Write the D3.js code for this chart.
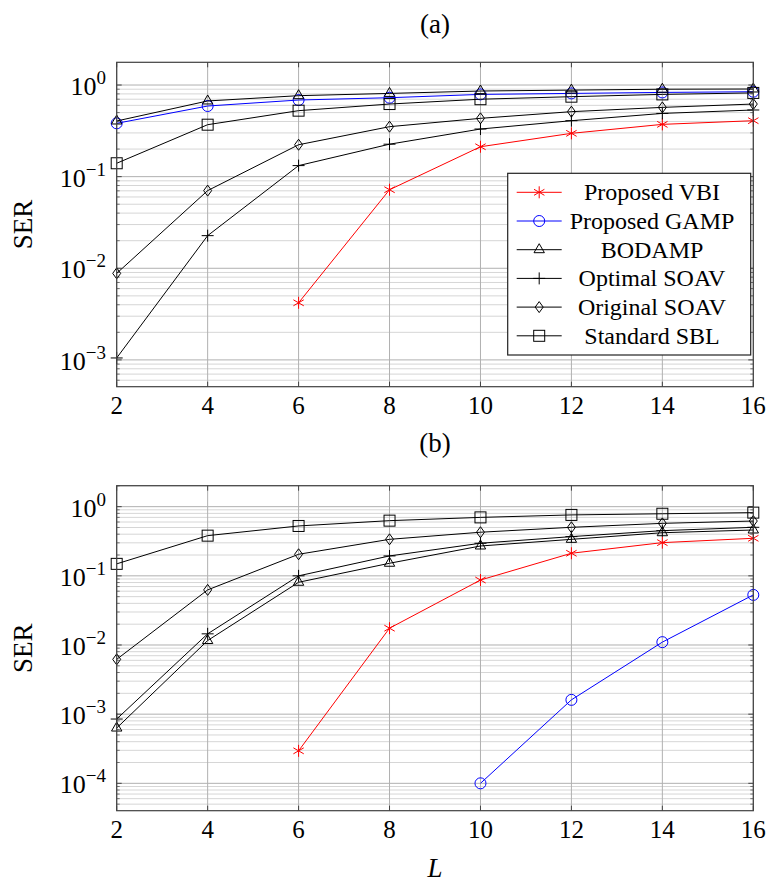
<!DOCTYPE html>
<html>
<head>
<meta charset="utf-8">
<script src="https://cdn.jsdelivr.net/npm/d3@7"></script>
<style>
  body { margin: 0; background: #fff; }
  text { font-family: "Liberation Serif", "DejaVu Serif", serif; fill: #000; }
</style>
</head>
<body>
<script>
var L = [2, 4, 6, 8, 10, 12, 14, 16];

// (a)
var vbiA      = [null, null, 0.0042, 0.072, 0.212, 0.297, 0.372, 0.408];
var gampA     = [0.382, 0.59, 0.686, 0.727, 0.79, 0.81, 0.83, 0.845];
var bodampA   = [0.405, 0.67, 0.765, 0.81, 0.86, 0.88, 0.9, 0.905];
var optSoavA  = [0.00105, 0.0227, 0.132, 0.226, 0.331, 0.408, 0.49, 0.534];
var origSoavA = [0.0088, 0.0704, 0.223, 0.351, 0.433, 0.512, 0.57, 0.62];
var sblA      = [0.14, 0.369, 0.525, 0.62, 0.70, 0.746, 0.79, 0.82];

// (b)
var vbiB      = [null, null, 2.95e-4, 0.0175, 0.087, 0.212, 0.302, 0.349];
var gampB     = [null, null, null, null, 1e-4, 1.61e-3, 0.011, 0.053];
var bodampB   = [6.3e-4, 0.0116, 0.0807, 0.152, 0.27, 0.337, 0.42, 0.46];
var optSoavB  = [8.5e-4, 0.0145, 0.1, 0.194, 0.296, 0.369, 0.45, 0.503];
var origSoavB = [0.0062, 0.0626, 0.205, 0.337, 0.427, 0.503, 0.574, 0.62];
var sblB      = [0.149, 0.381, 0.526, 0.628, 0.70, 0.76, 0.79, 0.82];

var seriesNames = ["Proposed VBI", "Proposed GAMP", "BODAMP", "Optimal SOAV", "Original SOAV", "Standard SBL"];
var seriesColors = ["#ff0000", "#0000ff", "#000", "#000", "#000", "#000"];
var seriesMarks = ["asterisk", "circle", "triangle", "plus", "diamond", "square"];

var yTicksA = [1e-3, 1e-2, 1e-1, 1];
var yTicksB = [1e-4, 1e-3, 1e-2, 1e-1, 1];

var W = 770, H = 887;
var svg = d3.select("body").append("svg").attr("width", W).attr("height", H);

var x = d3.scaleLinear().domain([2, 16]).range([116.7, 753.3]);

function drawMark(g, type, cx, cy, color) {
    var s;
    if (type === "circle") {
        g.append("circle").attr("cx", cx).attr("cy", cy).attr("r", 5.5)
            .attr("fill", "none").attr("stroke", color).attr("stroke-width", 1);
    } else if (type === "square") {
        s = 5.5;
        g.append("rect").attr("x", cx - s).attr("y", cy - s).attr("width", 2 * s).attr("height", 2 * s)
            .attr("fill", "none").attr("stroke", color).attr("stroke-width", 1);
    } else if (type === "triangle") {
        s = 6;
        g.append("path").attr("d", "M" + cx + "," + (cy - s) + "L" + (cx + s * 0.866) + "," + (cy + s * 0.5) +
            "L" + (cx - s * 0.866) + "," + (cy + s * 0.5) + "Z")
            .attr("fill", "none").attr("stroke", color).attr("stroke-width", 1);
    } else if (type === "diamond") {
        g.append("path").attr("d", "M" + cx + "," + (cy - 5.5) + "L" + (cx + 4) + "," + cy +
            "L" + cx + "," + (cy + 5.5) + "L" + (cx - 4) + "," + cy + "Z")
            .attr("fill", "none").attr("stroke", color).attr("stroke-width", 1);
    } else if (type === "plus") {
        s = 6;
        g.append("path").attr("d", "M" + (cx - s) + "," + cy + "H" + (cx + s) + "M" + cx + "," + (cy - s) + "V" + (cy + s))
            .attr("fill", "none").attr("stroke", color).attr("stroke-width", 1);
    } else if (type === "asterisk") {
        s = 6;
        var d = "M" + cx + "," + (cy - s) + "V" + (cy + s);
        [30, -30].forEach(function (a) {
            var r = a * Math.PI / 180;
            var dx = s * Math.cos(r), dy = s * Math.sin(r);
            d += "M" + (cx - dx) + "," + (cy - dy) + "L" + (cx + dx) + "," + (cy + dy);
        });
        g.append("path").attr("d", d).attr("fill", "none").attr("stroke", color).attr("stroke-width", 1);
    }
}

function drawPanel(cfg) {
    var top = cfg.top, bottom = cfg.bottom, left = x.range()[0], right = x.range()[1];
    var y = d3.scaleLog().domain(cfg.yDomain).range([bottom, top]);
    var g = svg.append("g");

    // minor y grid
    var minors = [];
    for (var e = -6; e <= 1; e++) {
        for (var m = 2; m <= 9; m++) {
            var v = m * Math.pow(10, e);
            if (v > cfg.yDomain[0] && v < cfg.yDomain[1]) minors.push(v);
        }
    }
    g.selectAll(".minor").data(minors).enter().append("line")
        .attr("x1", left).attr("x2", right)
        .attr("y1", function (d) { return y(d); }).attr("y2", function (d) { return y(d); })
        .attr("stroke", "#d6d6d6").attr("stroke-width", 1);
    g.selectAll(".majorY").data(cfg.yTicks).enter().append("line")
        .attr("x1", left).attr("x2", right)
        .attr("y1", function (d) { return y(d); }).attr("y2", function (d) { return y(d); })
        .attr("stroke", "#b0b0b0").attr("stroke-width", 1);
    g.selectAll(".majorX").data(L).enter().append("line")
        .attr("x1", function (d) { return x(d); }).attr("x2", function (d) { return x(d); })
        .attr("y1", top).attr("y2", bottom)
        .attr("stroke", "#b0b0b0").attr("stroke-width", 1);

    // tick marks
    g.selectAll(".mtl").data(minors).enter().append("path")
        .attr("d", function (d) { var yy = y(d); return "M" + left + "," + yy + "h3M" + right + "," + yy + "h-3"; })
        .attr("stroke", "#555").attr("stroke-width", 0.8);
    g.selectAll(".Mtl").data(cfg.yTicks).enter().append("path")
        .attr("d", function (d) { var yy = y(d); return "M" + left + "," + yy + "h5M" + right + "," + yy + "h-5"; })
        .attr("stroke", "#444").attr("stroke-width", 1);
    g.selectAll(".Mtx").data(L).enter().append("path")
        .attr("d", function (d) { var xx = x(d); return "M" + xx + "," + bottom + "v-5M" + xx + "," + top + "v5"; })
        .attr("stroke", "#444").attr("stroke-width", 1);

    // series
    var line = d3.line()
        .defined(function (d) { return d[1] != null; })
        .x(function (d) { return x(d[0]); })
        .y(function (d) { return y(d[1]); });
    cfg.series.forEach(function (vals, i) {
        var pts = L.map(function (l, j) { return [l, vals[j]]; });
        g.append("path").datum(pts).attr("d", line)
            .attr("fill", "none").attr("stroke", seriesColors[i]).attr("stroke-width", 1);
        pts.forEach(function (p) {
            if (p[1] != null) drawMark(g, seriesMarks[i], x(p[0]), y(p[1]), seriesColors[i]);
        });
    });

    // axis box
    g.append("rect").attr("x", left).attr("y", top).attr("width", right - left).attr("height", bottom - top)
        .attr("fill", "none").attr("stroke", "#404040").attr("stroke-width", 1.2);

    // tick labels
    g.selectAll(".xl").data(L).enter().append("text")
        .attr("x", function (d) { return x(d); }).attr("y", bottom + 27)
        .attr("text-anchor", "middle").style("font-size", "25px")
        .text(function (d) { return d; });
    var yl = g.selectAll(".yl").data(cfg.yTicks).enter().append("text")
        .attr("x", 106).attr("y", function (d) { return y(d) + 10; })
        .attr("text-anchor", "end").style("font-size", "26px");
    yl.append("tspan").text("10");
    yl.append("tspan").attr("dy", -11).style("font-size", "19px")
        .text(function (d) { var e = Math.round(Math.log10(d)); return e < 0 ? "\u2212" + (-e) : "" + e; });

    // labels
    svg.append("text").attr("transform", "translate(32," + ((top + bottom) / 2) + ") rotate(-90)")
        .attr("text-anchor", "middle").style("font-size", "27px").text("SER");
    svg.append("text").attr("x", (left + right) / 2).attr("y", cfg.titleY)
        .attr("text-anchor", "middle").attr("dominant-baseline", "central")
        .style("font-size", "27px").text(cfg.title);
    return y;
}

drawPanel({
    top: 62.3, bottom: 386.7, yDomain: [5.1e-4, 1.77], yTicks: yTicksA,
    series: [vbiA, gampA, bodampA, optSoavA, origSoavA, sblA], title: "(a)", titleY: 24
});
drawPanel({
    top: 485.7, bottom: 810.7, yDomain: [4.02e-5, 2.01], yTicks: yTicksB,
    series: [vbiB, gampB, bodampB, optSoavB, origSoavB, sblB], title: "(b)", titleY: 443
});

svg.append("text").attr("x", 435).attr("y", 868).attr("text-anchor", "middle")
    .attr("dominant-baseline", "central").style("font-size", "27px").style("font-style", "italic").text("L");

// legend
var lg = svg.append("g");
var lx0 = 507.7, ly0 = 173.3, lw = 243, lh = 181.7, rowH = 28.7, row0 = 192.3;
lg.append("rect").attr("x", lx0).attr("y", ly0).attr("width", lw).attr("height", lh)
    .attr("fill", "#fff").attr("stroke", "#222").attr("stroke-width", 1.2);
seriesNames.forEach(function (name, i) {
    var yy = row0 + i * rowH;
    lg.append("line").attr("x1", 516.7).attr("x2", 561.7).attr("y1", yy).attr("y2", yy)
        .attr("stroke", seriesColors[i]).attr("stroke-width", 1);
    drawMark(lg, seriesMarks[i], 539.2, yy, seriesColors[i]);
    lg.append("text").attr("x", 652).attr("y", yy).attr("text-anchor", "middle")
        .attr("dominant-baseline", "central").style("font-size", "24px").text(name);
});
</script>
</body>
</html>
